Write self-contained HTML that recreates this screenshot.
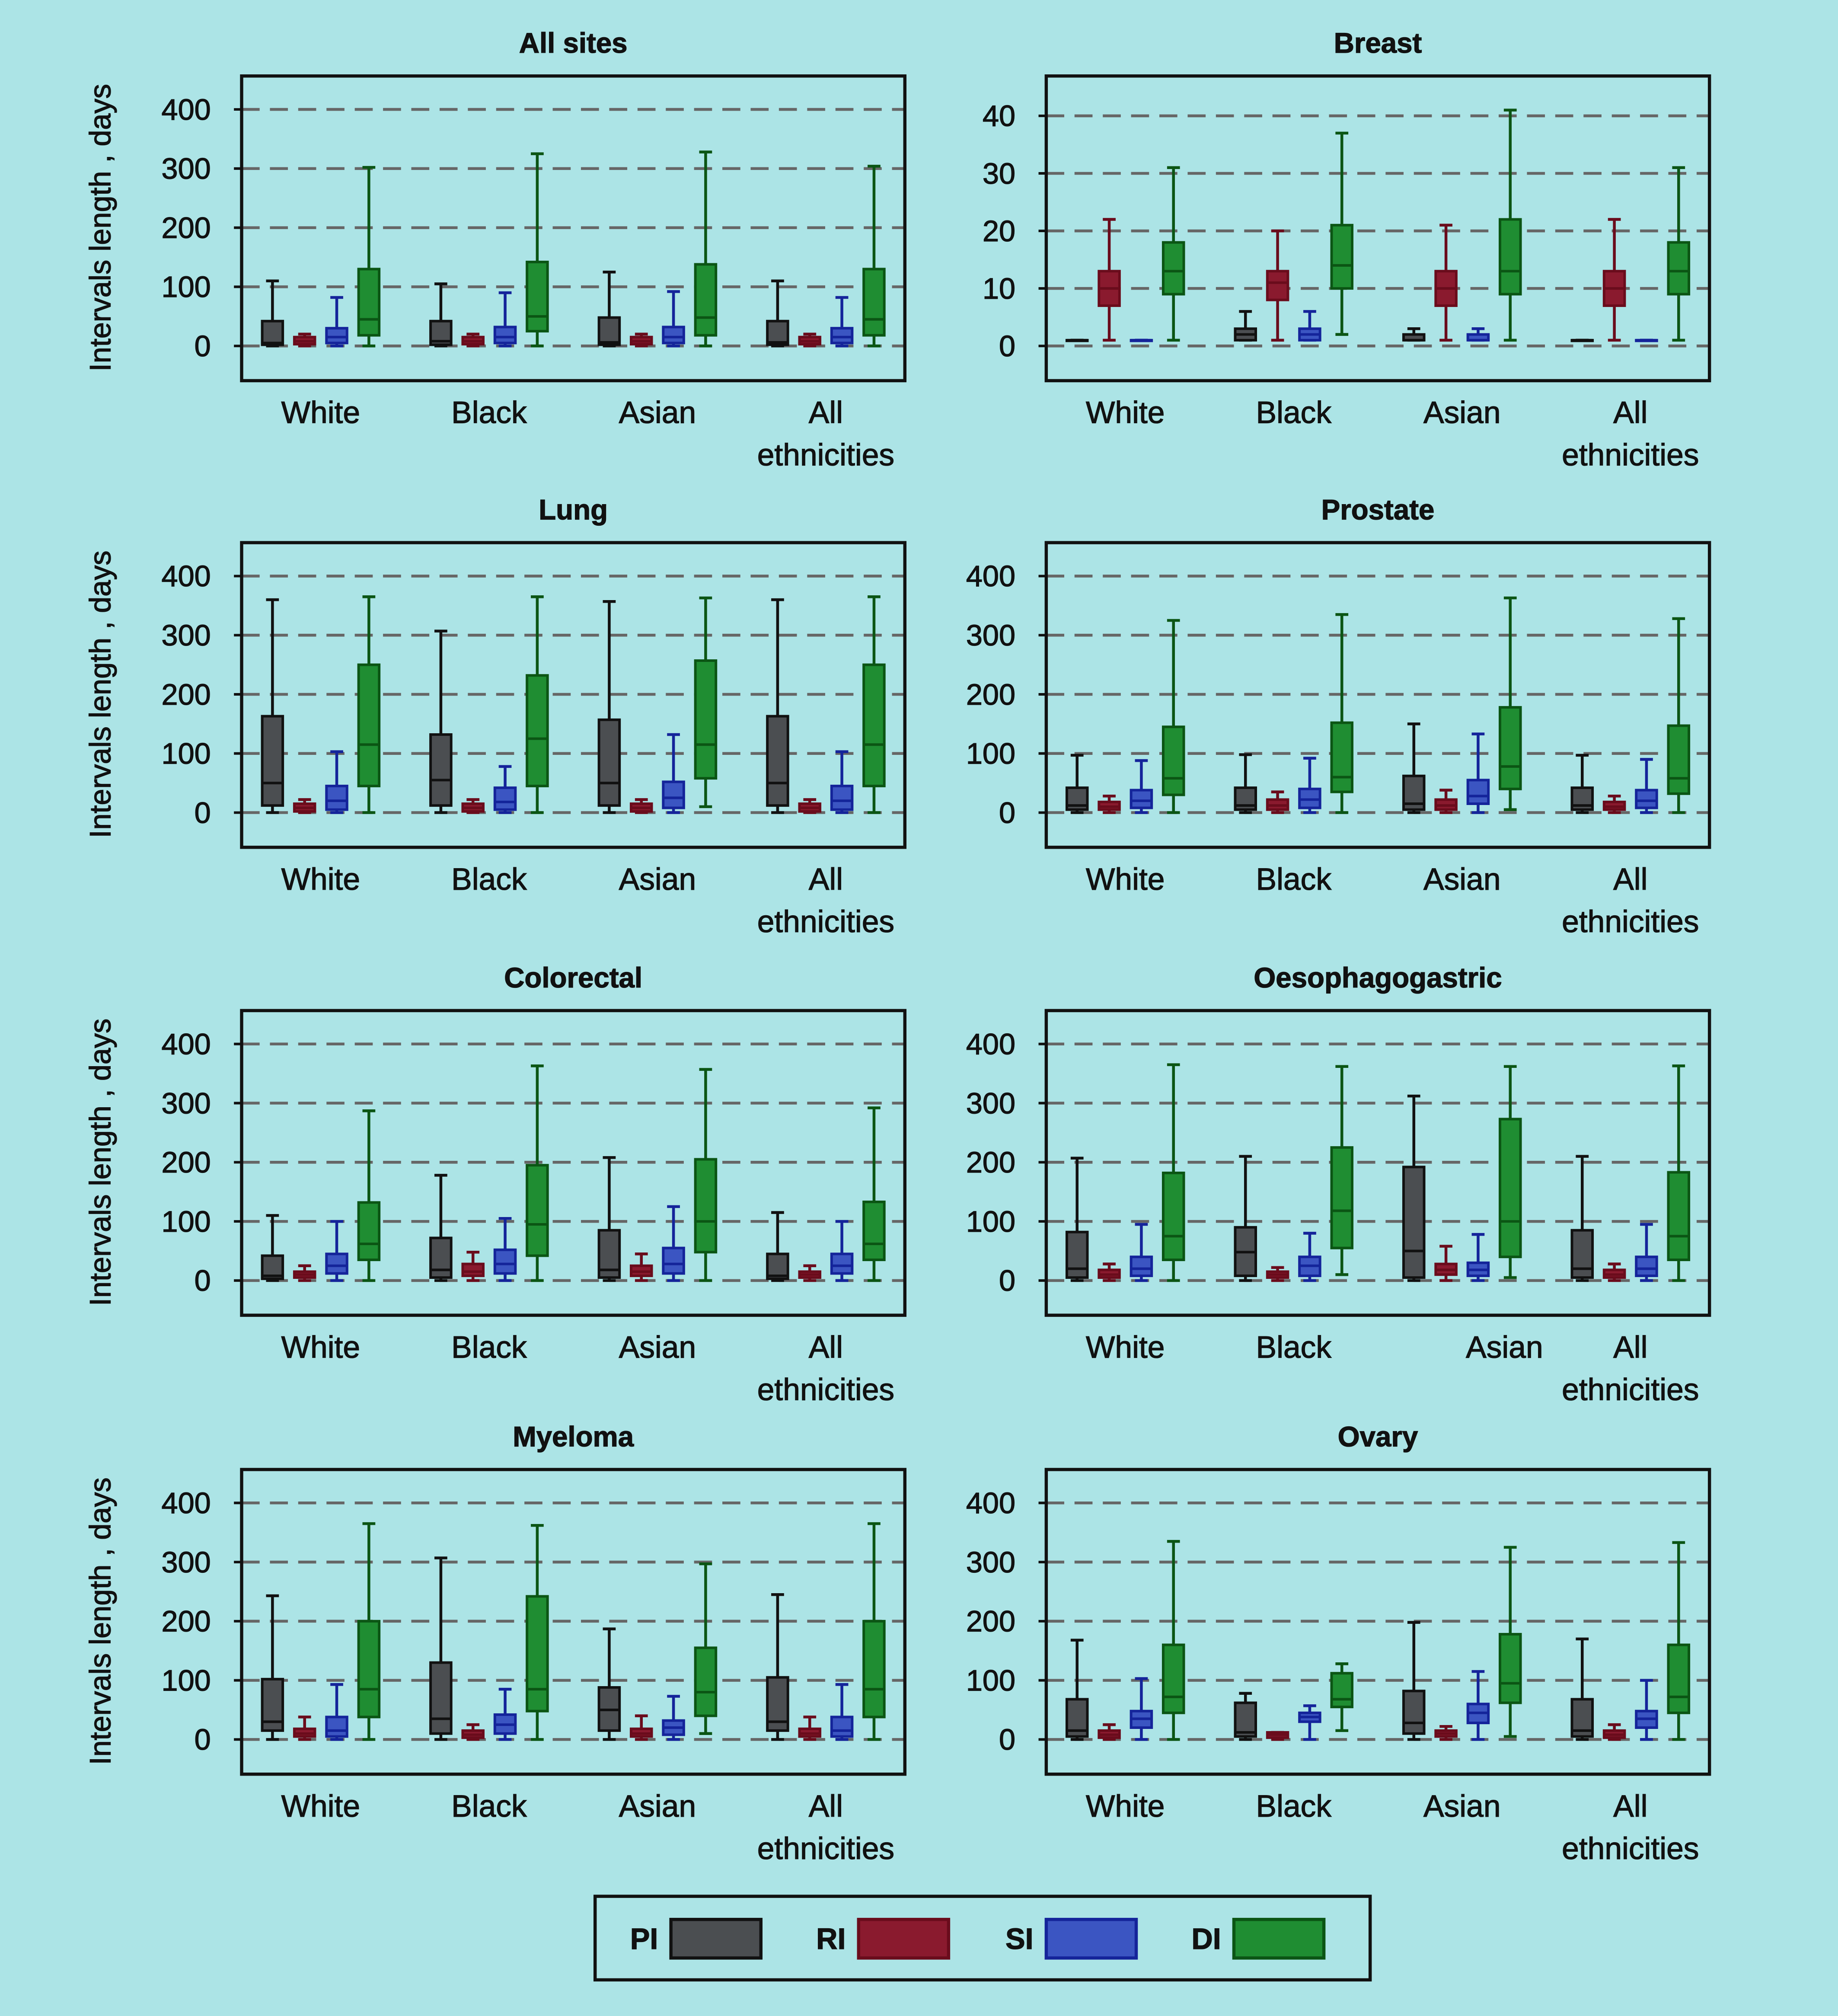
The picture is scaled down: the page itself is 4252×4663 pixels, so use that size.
<!DOCTYPE html>
<html><head><meta charset="utf-8"><style>
html,body{margin:0;padding:0;background:#ace4e6;}
svg{display:block;}
text{font-family:"Liberation Sans",sans-serif;fill:#111;stroke:#111;stroke-width:0.45px;}
</style></head><body>
<svg id="chart" width="4252" height="4663" viewBox="0 0 1430 1568" xmlns="http://www.w3.org/2000/svg">
<rect x="0" y="0" width="1430" height="1568" fill="#ace4e6"/>
</svg>
<script>
const panelTitles = ["All sites","Breast","Lung","Prostate","Colorectal","Oesophagogastric","Myeloma","Ovary"];
const categories = ["White","Black","Asian","All ethnicities"];
const seriesNames = ["PI","RI","SI","DI"];
const yTicksDays = [0,100,200,300,400];
const yTicksBreast = [0,10,20,30,40];
// each group: [PI, RI, SI, DI], each stat: [low, q1, median, q3, high]
const allSitesData = [
 [[0,2,5,42,110],[0,3,8,15,20],[0,5,15,30,82],[0,18,45,130,302]],
 [[0,2,8,42,105],[0,3,8,15,20],[0,5,15,32,90],[0,25,50,142,325]],
 [[0,2,6,48,125],[0,3,8,15,20],[0,5,15,32,92],[0,18,48,138,328]],
 [[0,2,6,42,110],[0,3,8,15,20],[0,5,15,30,82],[0,18,45,130,304]]];
const breastData = [
 [[1,1,1,1,1],[1,7,10,13,22],[1,1,1,1,1],[1,9,13,18,31]],
 [[1,1,2,3,6],[1,8,11,13,20],[1,1,2,3,6],[2,10,14,21,37]],
 [[1,1,1,2,3],[1,7,10,13,21],[1,1,1,2,3],[1,9,13,22,41]],
 [[1,1,1,1,1],[1,7,10,13,22],[1,1,1,1,1],[1,9,13,18,31]]];
const lungData = [
 [[0,12,50,163,360],[0,2,8,15,22],[0,5,20,45,103],[0,45,115,250,365]],
 [[0,12,55,132,307],[0,2,8,15,22],[0,5,18,42,78],[0,45,125,232,365]],
 [[0,12,50,157,357],[0,2,8,15,22],[0,8,25,52,132],[10,58,115,257,363]],
 [[0,12,50,163,360],[0,2,8,15,22],[0,5,20,45,103],[0,45,115,250,365]]];
const prostateData = [
 [[0,5,12,42,97],[0,5,10,18,28],[0,8,20,38,88],[0,30,58,145,325]],
 [[0,5,12,42,98],[0,5,12,22,35],[0,8,22,40,92],[0,35,60,152,335]],
 [[0,5,15,62,150],[0,5,12,22,38],[0,15,28,55,133],[5,40,78,178,363]],
 [[0,5,12,42,97],[0,5,10,18,28],[0,8,20,38,90],[0,32,58,147,328]]];
const colorectalData = [
 [[0,3,8,42,110],[0,5,10,15,25],[0,12,25,45,100],[0,35,62,132,287]],
 [[0,5,18,72,178],[0,8,15,28,48],[0,12,28,52,105],[0,42,95,195,363]],
 [[0,5,18,85,208],[0,8,15,25,45],[0,12,28,55,125],[0,48,100,205,357]],
 [[0,3,8,45,115],[0,5,10,15,25],[0,12,25,45,100],[0,35,62,133,292]]];
const oesophagogastricData = [
 [[0,5,20,82,207],[0,5,10,18,28],[0,8,20,40,95],[0,35,75,182,365]],
 [[0,8,48,90,210],[0,5,10,15,22],[0,8,25,40,80],[10,55,118,225,362]],
 [[0,5,50,192,312],[0,10,18,28,58],[0,8,18,30,78],[5,40,100,273,362]],
 [[0,5,20,85,210],[0,5,10,18,28],[0,8,20,40,95],[0,35,75,183,363]]];
const myelomaData = [
 [[0,15,30,102,243],[0,5,10,18,38],[0,5,15,38,93],[0,38,85,200,365]],
 [[0,10,35,130,307],[0,3,8,15,25],[0,10,25,42,85],[0,48,85,242,362]],
 [[0,15,50,88,187],[0,5,10,18,40],[0,8,20,32,73],[10,40,80,155,297]],
 [[0,15,30,105,245],[0,5,10,18,38],[0,5,15,38,93],[0,38,85,200,365]]];
const ovaryData = [
 [[0,5,15,68,168],[0,3,8,15,25],[0,20,35,48,103],[0,45,72,160,335]],
 [[0,5,12,62,78],[0,3,8,12,12],[0,30,38,45,57],[15,55,68,112,128]],
 [[0,10,28,82,198],[0,5,10,15,22],[0,28,45,60,115],[5,62,95,178,325]],
 [[0,5,15,68,170],[0,3,8,15,25],[0,20,35,48,100],[0,45,72,160,333]]];

const panelData = [allSitesData,breastData,lungData,prostateData,colorectalData,oesophagogastricData,myelomaData,ovaryData];
const fills = ["#4b4e51","#8a1a2e","#3b55c2","#1f8d32"];
const strokes = ["#111111","#6a0c1c","#14249a","#0b5514"];
const svg = document.getElementById('chart');
const NS = "http://www.w3.org/2000/svg";
function mk(tag, attrs, parent){const e=document.createElementNS(NS,tag);for(const k in attrs)e.setAttribute(k,attrs[k]);(parent||svg).appendChild(e);return e;}
function slug(s){return s.toLowerCase().replace(/[^a-z0-9]+/g,'-').replace(/^-|-$/g,'');}

const colX = [188,814], rowY = [59,422,786,1143], boxW = 516, boxH = 237;
panelData.forEach((data,p)=>{
  const px = colX[p%2], py = rowY[Math.floor(p/2)];
  const ticks = p===1 ? yTicksBreast : yTicksDays;
  const yMax = ticks[ticks.length-1];
  const y0 = py+210, yTop = p===1 ? py+31 : py+26;
  const yScale = v => y0 - (v/yMax)*(y0-yTop);
  const g = mk('g',{});
  
  
  const t = mk('text',{x:px+boxW/2,y:py-18,'text-anchor':'middle','font-size':22,'font-weight':'bold'},g);
  t.textContent = panelTitles[p];
  
  
  ticks.forEach(v=>{
    const y = yScale(v);
    const gl = mk('line',{x1:px,x2:px+boxW,y1:y,y2:y,stroke:'#666','stroke-width':2.2,'stroke-dasharray':'14,8'},g);
    
    
    mk('line',{x1:px-6,x2:px,y1:y,y2:y,stroke:'#111','stroke-width':2},g);
    const tl = mk('text',{x:px-24,y:y+8,'text-anchor':'end','font-size':23},g);
    tl.textContent = v;
    
    
  });
  if(p%2===0){
    const yt = mk('text',{x:0,y:0,'text-anchor':'middle','font-size':23,transform:`translate(86,${py+118}) rotate(-90)`},g);
    yt.textContent = 'Intervals length , days';
    
    
  }
  data.forEach((grp,gi)=>{
    const gx0 = px+24+gi*131;
    let lx = gx0+37.5;
    if(p===5 && gi===2) lx += 33;
    const cat = categories[gi];
    if(cat==='All ethnicities'){
      const a = mk('text',{x:lx,y:py+270,'text-anchor':'middle','font-size':24},g); a.textContent='All';
      
      
      const b = mk('text',{x:lx,y:py+303,'text-anchor':'middle','font-size':24},g); b.textContent='ethnicities';
      
      
    } else {
      const a = mk('text',{x:lx,y:py+270,'text-anchor':'middle','font-size':24},g); a.textContent=cat;
      
      
    }
    grp.forEach((s,si)=>{
      const cx = gx0+si*25;
      const bg = mk('g',{},g);
      
      
      const [lo,q1,md,q3,hi] = s.map(yScale);
      const sc = strokes[si];
      mk('line',{x1:cx,x2:cx,y1:hi,y2:lo,stroke:sc,'stroke-width':2.2},bg);
      mk('line',{x1:cx-5,x2:cx+5,y1:hi,y2:hi,stroke:sc,'stroke-width':2.2},bg);
      mk('line',{x1:cx-5,x2:cx+5,y1:lo,y2:lo,stroke:sc,'stroke-width':2.2},bg);
      mk('rect',{x:cx-8,y:q3,width:16,height:Math.max(q1-q3,0.5),fill:fills[si],stroke:sc,'stroke-width':2},bg);
      mk('line',{x1:cx-8,x2:cx+8,y1:md,y2:md,stroke:sc,'stroke-width':2},bg);
    });
  });
  const fr = mk('rect',{x:px,y:py,width:boxW,height:boxH,fill:'none',stroke:'#111','stroke-width':2.5},g);
  
  
});

const lg = mk('g',{});


mk('rect',{x:463,y:1475,width:603,height:65,fill:'#ace4e6',stroke:'#111','stroke-width':2.5},lg);
seriesNames.forEach((n,i)=>{
  const e = mk('g',{},lg);
  
  
  const tx = mk('text',{x:512+i*146,y:1516,'text-anchor':'end','font-size':23,'font-weight':'bold'},e);
  tx.textContent = n;
  mk('rect',{x:522+i*146,y:1493,width:70,height:30,fill:fills[i],stroke:strokes[i],'stroke-width':2.5},e);
});
</script>
</body></html>
